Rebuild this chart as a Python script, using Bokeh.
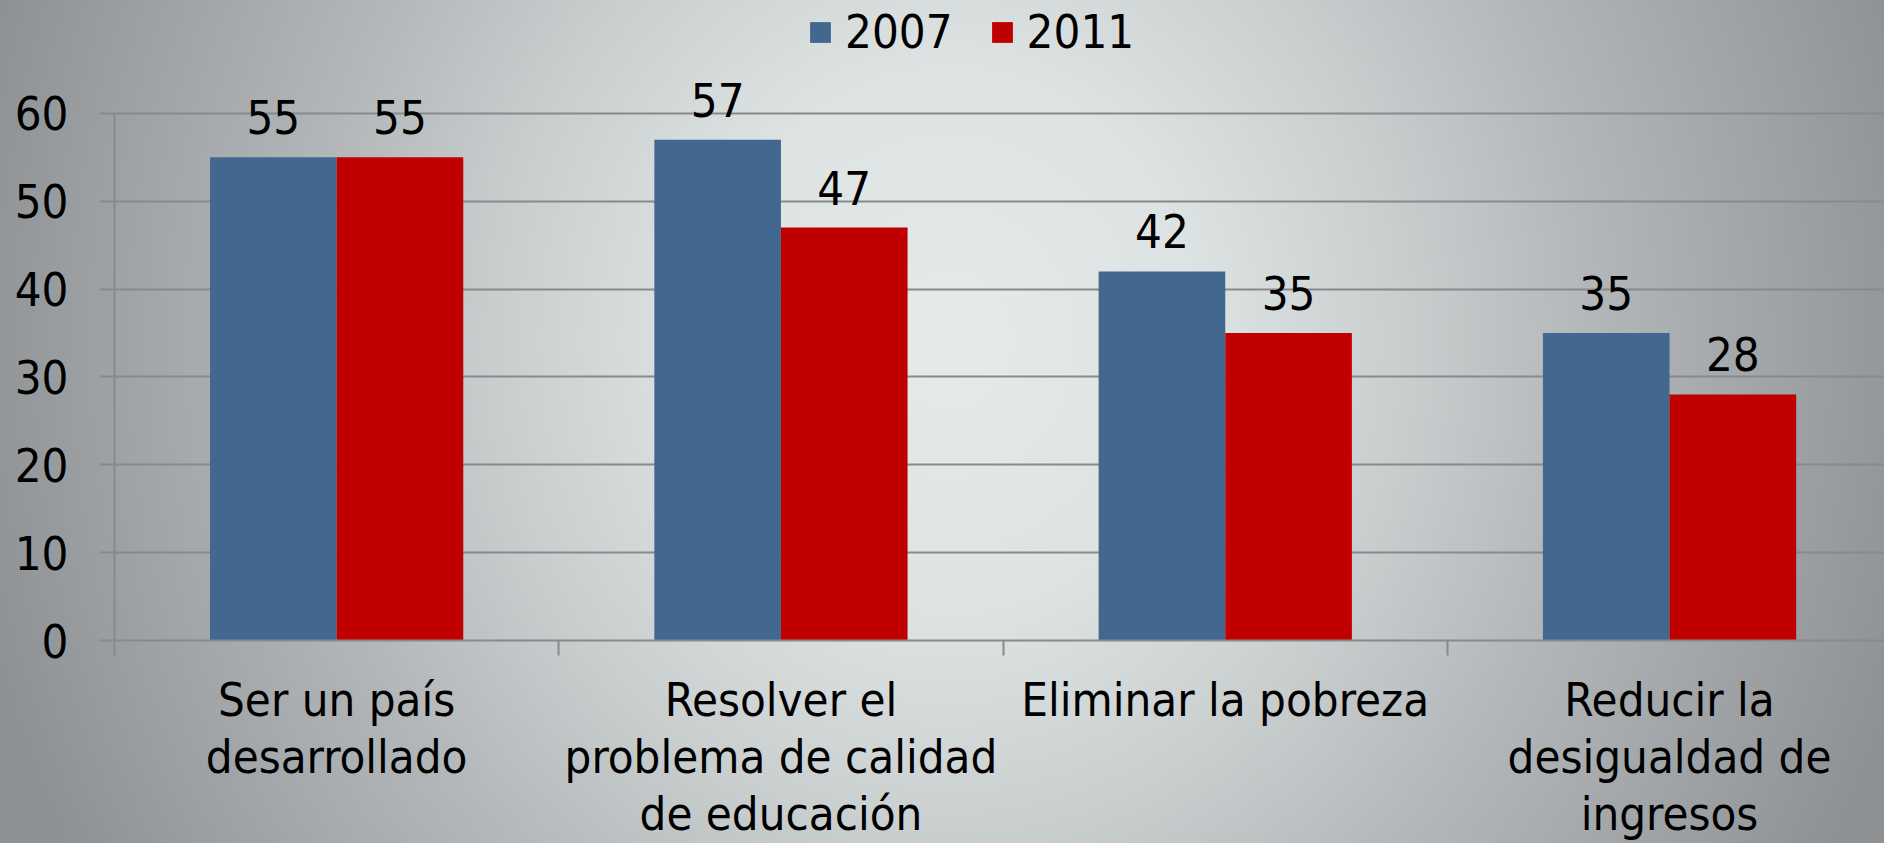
from bokeh.plotting import figure
from bokeh.models import ColumnDataSource, FixedTicker, LabelSet, Legend, LegendItem, Range1d
from bokeh.core.properties import value
from bokeh.transform import dodge
from bokeh.embed import file_html
from bokeh.resources import INLINE
import numpy as np

categories = ["Ser un país\ndesarrollado",
              "Resolver el\nproblema de calidad\nde educación",
              "Eliminar la pobreza",
              "Reducir la\ndesigualdad de\ningresos"]
values_2007 = [55, 57, 42, 35]
values_2011 = [55, 47, 35, 28]
series_names = ["2007", "2011"]
y_ticks = [0, 10, 20, 30, 40, 50, 60]

FONT = "DejaVu Sans Condensed"
BLUE = "#426890"
RED = "#c00000"
GRID = "#888a8c"

pos = np.arange(len(categories)) + 0.5
src = ColumnDataSource(dict(x=pos, v07=values_2007, v11=values_2011,
                            l07=[str(v) for v in values_2007],
                            l11=[str(v) for v in values_2011]))

W, H = 1884, 843
left = 114
cat_px = 444.3
unit_px = 8.8
frame_bottom = 641
x_end = (W - left) / cat_px
y_end = frame_bottom / unit_px

p = figure(width=W, height=H, output_backend="svg", toolbar_location=None,
           x_range=Range1d(0, x_end), y_range=Range1d(0, y_end),
           min_border_left=left, min_border_right=0, min_border_top=0,
           min_border_bottom=0)
p.styles = {"background": "radial-gradient(1000px 1100px at 950px 340px, #e6eaea 0%, #dde2e2 25%, #c9cecf 45%, #b3b7b9 64%, #9a9ea0 88%, #8e9193 100%)"}
p.border_fill_alpha = 0
p.background_fill_alpha = 0
p.outline_line_color = None

bw = 0.285
r07 = p.vbar(x=dodge("x", -bw / 2), top="v07", width=bw, source=src,
             fill_color=BLUE, line_color=None)
r11 = p.vbar(x=dodge("x", bw / 2), top="v11", width=bw, source=src,
             fill_color=RED, line_color=None)

for col, lab, off in (("v07", "l07", -bw / 2), ("v11", "l11", bw / 2)):
    p.add_layout(LabelSet(x=dodge("x", off), y=col, text=lab, source=src,
                          text_align="center", text_baseline="alphabetic",
                          y_offset=23, text_font=value(FONT),
                          text_font_size="47px", text_color="black"))

# x axis
xa = p.xaxis[0]
xa.ticker = FixedTicker(ticks=list(pos), minor_ticks=list(np.arange(len(categories) + 1)))
xa.major_label_overrides = {float(x): c for x, c in zip(pos, categories)}
xa.major_tick_out = 0
xa.major_tick_in = 0
xa.minor_tick_out = 15
xa.minor_tick_in = 0
xa.minor_tick_line_color = GRID
xa.minor_tick_line_width = 2
xa.axis_line_color = GRID
xa.axis_line_width = 2
xa.major_label_text_font = FONT
xa.major_label_text_font_size = "47px"
xa.major_label_text_color = "black"
xa.major_label_text_line_height = 1.04
xa.major_label_standoff = 16

# y axis
ya = p.yaxis[0]
ya.ticker = FixedTicker(ticks=y_ticks, minor_ticks=[])
ya.bounds = (0, 60)
ya.major_tick_out = 15
ya.major_tick_in = 0
ya.major_tick_line_color = GRID
ya.major_tick_line_width = 2
ya.axis_line_color = GRID
ya.axis_line_width = 2
ya.major_label_text_font = FONT
ya.major_label_text_font_size = "47px"
ya.major_label_text_color = "black"
ya.major_label_standoff = 31

p.xgrid.grid_line_color = None
p.ygrid.ticker = FixedTicker(ticks=y_ticks)
p.ygrid.grid_line_color = GRID
p.ygrid.grid_line_width = 2

legend = Legend(items=[LegendItem(label=series_names[0], renderers=[r07]),
                       LegendItem(label=series_names[1], renderers=[r11])],
                orientation="horizontal", location=(693, 581),
                glyph_width=26, glyph_height=26, label_standoff=12, spacing=36,
                padding=0, margin=0, border_line_color=None,
                background_fill_alpha=0, label_text_font=FONT,
                label_text_font_size="47px", label_text_color="black")
p.add_layout(legend)

open("out.html", "w").write(file_html(p, INLINE))
